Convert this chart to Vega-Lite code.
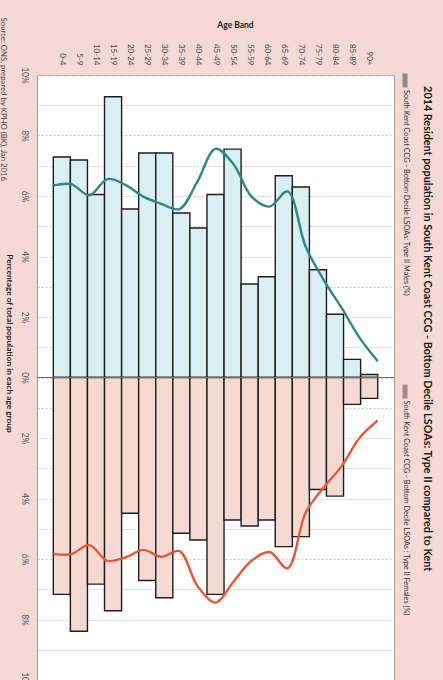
{
  "$schema": "https://vega.github.io/schema/vega-lite/v6.json",
  "width": 357,
  "height": 605,
  "autosize": {"type": "none"},
  "padding": {"left": 37, "top": 75, "right": 49, "bottom": 0},
  "background": "#f5d9d5",
  "config": {"view": {"fill": "white", "stroke": "#9a9a9a", "strokeWidth": 1}, "font": "Lato"},
  "title": {
    "text": "2014 Resident population in South Kent Coast CCG - Bottom Decile LSOAs: Type II compared to Kent",
    "orient": "right",
    "frame": "bounds",
    "anchor": "middle",
    "offset": 8,
    "dx": -24,
    "fontSize": 10.8,
    "fontWeight": "bold",
    "font": "Lato",
    "color": "#1a1a1a"
  },
  "datasets": {
    "bars": [
      {"age": "0-4", "sex": "Males", "value": 7.29},
      {"age": "5-9", "sex": "Males", "value": 7.19},
      {"age": "10-14", "sex": "Males", "value": 6.05},
      {"age": "15-19", "sex": "Males", "value": 9.28},
      {"age": "20-24", "sex": "Males", "value": 5.57},
      {"age": "25-29", "sex": "Males", "value": 7.42},
      {"age": "30-34", "sex": "Males", "value": 7.42},
      {"age": "35-39", "sex": "Males", "value": 5.44},
      {"age": "40-44", "sex": "Males", "value": 4.94},
      {"age": "45-49", "sex": "Males", "value": 6.05},
      {"age": "50-54", "sex": "Males", "value": 7.55},
      {"age": "55-59", "sex": "Males", "value": 3.09},
      {"age": "60-64", "sex": "Males", "value": 3.33},
      {"age": "65-69", "sex": "Males", "value": 6.67},
      {"age": "70-74", "sex": "Males", "value": 6.30},
      {"age": "75-79", "sex": "Males", "value": 3.56},
      {"age": "80-84", "sex": "Males", "value": 2.09},
      {"age": "85-89", "sex": "Males", "value": 0.60},
      {"age": "90+", "sex": "Males", "value": 0.10},
      {"age": "0-4", "sex": "Females", "value": -7.17},
      {"age": "5-9", "sex": "Females", "value": -8.39},
      {"age": "10-14", "sex": "Females", "value": -6.83},
      {"age": "15-19", "sex": "Females", "value": -7.71},
      {"age": "20-24", "sex": "Females", "value": -4.49},
      {"age": "25-29", "sex": "Females", "value": -6.71},
      {"age": "30-34", "sex": "Females", "value": -7.28},
      {"age": "35-39", "sex": "Females", "value": -5.15},
      {"age": "40-44", "sex": "Females", "value": -5.37},
      {"age": "45-49", "sex": "Females", "value": -7.17},
      {"age": "50-54", "sex": "Females", "value": -4.71},
      {"age": "55-59", "sex": "Females", "value": -4.91},
      {"age": "60-64", "sex": "Females", "value": -4.71},
      {"age": "65-69", "sex": "Females", "value": -5.59},
      {"age": "70-74", "sex": "Females", "value": -5.26},
      {"age": "75-79", "sex": "Females", "value": -3.70},
      {"age": "80-84", "sex": "Females", "value": -3.92},
      {"age": "85-89", "sex": "Females", "value": -0.89},
      {"age": "90+", "sex": "Females", "value": -0.69}
    ],
    "kent": [
      {"age": "0-4", "sex": "Males", "value": 6.35},
      {"age": "5-9", "sex": "Males", "value": 6.39},
      {"age": "10-14", "sex": "Males", "value": 6.02},
      {"age": "15-19", "sex": "Males", "value": 6.56},
      {"age": "20-24", "sex": "Males", "value": 6.37},
      {"age": "25-29", "sex": "Males", "value": 5.98},
      {"age": "30-34", "sex": "Males", "value": 5.74},
      {"age": "35-39", "sex": "Males", "value": 5.57},
      {"age": "40-44", "sex": "Males", "value": 6.48},
      {"age": "45-49", "sex": "Males", "value": 7.56},
      {"age": "50-54", "sex": "Males", "value": 7.05},
      {"age": "55-59", "sex": "Males", "value": 5.98},
      {"age": "60-64", "sex": "Males", "value": 5.65},
      {"age": "65-69", "sex": "Males", "value": 6.15},
      {"age": "70-74", "sex": "Males", "value": 4.33},
      {"age": "75-79", "sex": "Males", "value": 3.23},
      {"age": "80-84", "sex": "Males", "value": 2.30},
      {"age": "85-89", "sex": "Males", "value": 1.31},
      {"age": "90+", "sex": "Males", "value": 0.54},
      {"age": "0-4", "sex": "Females", "value": -5.83},
      {"age": "5-9", "sex": "Females", "value": -5.84},
      {"age": "10-14", "sex": "Females", "value": -5.54},
      {"age": "15-19", "sex": "Females", "value": -6.06},
      {"age": "20-24", "sex": "Females", "value": -5.95},
      {"age": "25-29", "sex": "Females", "value": -5.70},
      {"age": "30-34", "sex": "Females", "value": -5.93},
      {"age": "35-39", "sex": "Females", "value": -5.74},
      {"age": "40-44", "sex": "Females", "value": -6.89},
      {"age": "45-49", "sex": "Females", "value": -7.44},
      {"age": "50-54", "sex": "Females", "value": -6.75},
      {"age": "55-59", "sex": "Females", "value": -6.06},
      {"age": "60-64", "sex": "Females", "value": -5.77},
      {"age": "65-69", "sex": "Females", "value": -6.31},
      {"age": "70-74", "sex": "Females", "value": -4.47},
      {"age": "75-79", "sex": "Females", "value": -3.64},
      {"age": "80-84", "sex": "Females", "value": -2.93},
      {"age": "85-89", "sex": "Females", "value": -1.99},
      {"age": "90+", "sex": "Females", "value": -1.42}
    ]
  },
  "layer": [
    {
      "data": {"name": "bars"},
      "mark": {"type": "bar", "stroke": "#1e1e1e", "strokeWidth": 1.4},
      "encoding": {
        "x": {
          "field": "age", "type": "nominal",
          "sort": ["0-4","5-9","10-14","15-19","20-24","25-29","30-34","35-39","40-44","45-49","50-54","55-59","60-64","65-69","70-74","75-79","80-84","85-89","90+"],
          "scale": {"paddingInner": 0, "paddingOuter": 0.955},
          "axis": {
            "orient": "top", "ticks": false, "domain": false, "grid": false,
            "labelAngle": 90, "labelAlign": "right", "labelBaseline": "middle",
            "labelPadding": 10, "labelFontSize": 8, "labelColor": "#444", "labelFont": "Lato",
            "title": "Age Band", "titleAngle": 0, "titleX": 198, "titleY": -51,
            "titleAlign": "center", "titleBaseline": "middle",
            "titleFontSize": 8.5, "titleFontWeight": "bold", "titleColor": "#222", "titleFont": "Lato"
          }
        },
        "y": {
          "field": "value", "type": "quantitative", "stack": null,
          "scale": {"domain": [-10, 10], "nice": false, "zero": false},
          "axis": {
            "orient": "left",
            "values": [-10,-9,-8,-7,-6,-5,-4,-3,-2,-1,0,1,2,3,4,5,6,7,8,9,10],
            "labelExpr": "abs(datum.value) % 2 == 0 ? abs(datum.value) + '%' : ''",
            "ticks": false, "domain": false,
            "grid": true, "gridDash": [2, 2], "gridColor": "#cccccc", "gridWidth": 1,
            "labelAngle": 90, "labelAlign": "center", "labelBaseline": "top",
            "labelPadding": 9, "labelFontSize": 8.5, "labelColor": "#555", "labelFont": "Lato",
            "labelFlush": false, "labelOverlap": false, "labelBound": false,
            "title": "Percentage of total population in each age group",
            "titleAngle": 90, "titleX": -29, "titleY": 268,
            "titleAlign": "center", "titleBaseline": "middle",
            "titleFontSize": 8.3, "titleFontWeight": "bold", "titleColor": "#222", "titleFont": "Lato"
          }
        },
        "fill": {
          "field": "sex", "type": "nominal",
          "scale": {"domain": ["Males", "Females"], "range": ["#d9eff1", "#f6d9d3"]},
          "legend": null
        }
      }
    },
    {
      "data": {"values": [{}]},
      "mark": {"type": "rule", "color": "#6e6e6e", "strokeWidth": 1.2},
      "encoding": {"y": {"datum": 0, "type": "quantitative", "axis": null}}
    },
    {
      "data": {"name": "kent"},
      "mark": {"type": "line", "interpolate": "catmull-rom", "strokeWidth": 2.4},
      "encoding": {
        "x": {
          "field": "age", "type": "nominal",
          "sort": ["0-4","5-9","10-14","15-19","20-24","25-29","30-34","35-39","40-44","45-49","50-54","55-59","60-64","65-69","70-74","75-79","80-84","85-89","90+"],
          "scale": {"type": "point", "padding": 0.905},
          "axis": {
            "orient": "bottom", "labels": false, "ticks": false, "domain": false, "grid": false,
            "title": "Source: ONS, prepared by KPHO (BK), Jan 2016",
            "titleAngle": 90, "titleX": -35, "titleY": -663,
            "titleAlign": "left", "titleBaseline": "middle",
            "titleFontSize": 7.8, "titleFontWeight": "normal", "titleColor": "#444", "titleFont": "Lato"
          }
        },
        "y": {
          "field": "value", "type": "quantitative",
          "scale": {"domain": [-10, 10], "nice": false, "zero": false},
          "axis": {
            "orient": "right", "offset": 8,
            "values": [9.82, -0.45],
            "labelExpr": "datum.value > 0 ? 'South Kent Coast CCG - Bottom Decile LSOAs: Type II Males (%)' : 'South Kent Coast CCG - Bottom Decile LSOAs : Type II Females (%)'",
            "domain": false, "grid": false,
            "ticks": true, "tickSize": 5, "tickWidth": 14,
            "tickColor": {"condition": {"test": "datum.value > 0", "value": "#8c8c8c"}, "value": "#a88a86"},
            "labelAngle": 90, "labelAlign": "left", "labelBaseline": "middle",
            "labelPadding": -2, "labelOffset": 9, "labelLimit": 400,
            "labelFontSize": 7.3, "labelColor": "#333", "labelFont": "Lato",
            "labelFlush": false, "labelOverlap": false, "labelBound": false,
            "title": null
          }
        },
        "stroke": {
          "field": "sex", "type": "nominal",
          "scale": {"domain": ["Males", "Females"], "range": ["#2e878b", "#e05a3c"]},
          "legend": null
        }
      }
    }
  ],
  "resolve": {"scale": {"x": "independent"}, "axis": {"x": "independent", "y": "independent"}}
}
